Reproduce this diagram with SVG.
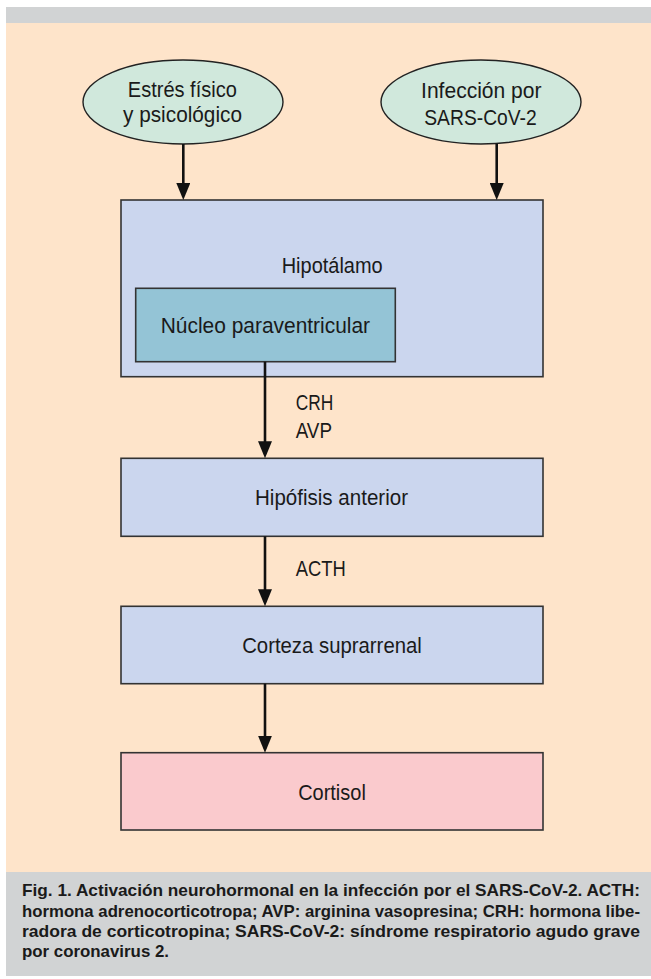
<svg xmlns="http://www.w3.org/2000/svg" width="651" height="979" viewBox="0 0 651 979">
<style>
.t{font-family:"Liberation Sans",Arial,sans-serif;font-size:22px;fill:#1a1a1a}
.c{font-family:"Liberation Sans",Arial,sans-serif;font-size:16.5px;font-weight:bold;fill:#1a1a1a}
.box{stroke:#333;stroke-width:1.6}
.ell{fill:#d0e8dc;stroke:#222;stroke-width:1.4}
.con{stroke:#111;stroke-width:2.6;fill:none}
</style>
<defs>
<marker id="ah" markerUnits="userSpaceOnUse" markerWidth="18" markerHeight="14" refX="13" refY="7" orient="auto" viewBox="0 0 18 14">
<path d="M0,0 L17,7 L0,14 z" fill="#111"/>
</marker>
</defs>
<rect x="0" y="0" width="651" height="979" fill="#ffffff"/>
<rect x="6" y="7" width="645" height="16" fill="#d1d3d4"/>
<rect x="6" y="23" width="645" height="849" fill="#fee4ca"/>
<rect x="6" y="872" width="645" height="104" fill="#d1d3d4"/>

<g id="estres">
<ellipse class="ell" cx="183" cy="102" rx="100" ry="42"/>
<text class="t" x="182.3" y="96.5" text-anchor="middle" textLength="109" lengthAdjust="spacingAndGlyphs">Estrés físico</text>
<text class="t" x="182.5" y="121.5" text-anchor="middle" textLength="119" lengthAdjust="spacingAndGlyphs">y psicológico</text>
</g>
<g id="infeccion">
<ellipse class="ell" cx="481" cy="102" rx="100" ry="42"/>
<text class="t" x="481.3" y="97.5" text-anchor="middle" textLength="120.5" lengthAdjust="spacingAndGlyphs">Infección por</text>
<text class="t" x="480.5" y="125" text-anchor="middle" textLength="112.5" lengthAdjust="spacingAndGlyphs">SARS-CoV-2</text>
</g>
<g id="hipotalamo">
<rect class="box" x="121" y="200" width="422" height="176.7" fill="#cbd6ee"/>
<text class="t" x="332.2" y="272.7" text-anchor="middle" textLength="101" lengthAdjust="spacingAndGlyphs">Hipotálamo</text>
</g>
<g id="nucleo">
<rect class="box" x="135.7" y="288.3" width="259.6" height="73.4" fill="#94c4d6"/>
<text class="t" x="265.4" y="332.7" text-anchor="middle" textLength="209.3" lengthAdjust="spacingAndGlyphs">Núcleo paraventricular</text>
</g>
<g id="hipofisis">
<rect class="box" x="121" y="458.3" width="422" height="78" fill="#cbd6ee"/>
<text class="t" x="331.5" y="505" text-anchor="middle" textLength="153" lengthAdjust="spacingAndGlyphs">Hipófisis anterior</text>
</g>
<g id="corteza">
<rect class="box" x="121" y="606.3" width="422" height="77.4" fill="#cbd6ee"/>
<text class="t" x="332" y="652.7" text-anchor="middle" textLength="179.7" lengthAdjust="spacingAndGlyphs">Corteza suprarrenal</text>
</g>
<g id="cortisol">
<rect class="box" x="121" y="752.7" width="422" height="77.3" fill="#facacd"/>
<text class="t" x="332" y="800" text-anchor="middle" textLength="67.7" lengthAdjust="spacingAndGlyphs">Cortisol</text>
</g>

<g id="connectors">
<line class="con" x1="183.3" y1="144" x2="183.3" y2="196" marker-end="url(#ah)"/>
<line class="con" x1="496.7" y1="143.5" x2="496.7" y2="196" marker-end="url(#ah)"/>
<line class="con" x1="265" y1="361.7" x2="265" y2="454.3" marker-end="url(#ah)"/>
<line class="con" x1="265" y1="536.3" x2="265" y2="602.3" marker-end="url(#ah)"/>
<line class="con" x1="265" y1="683.7" x2="265" y2="748.7" marker-end="url(#ah)"/>
<text class="t" x="295.7" y="410" textLength="37.6" lengthAdjust="spacingAndGlyphs">CRH</text>
<text class="t" x="295.7" y="438" textLength="36.3" lengthAdjust="spacingAndGlyphs">AVP</text>
<text class="t" x="295.7" y="575.7" textLength="50" lengthAdjust="spacingAndGlyphs">ACTH</text>
</g>

<g id="caption">
<text class="c" x="22" y="896" textLength="618" lengthAdjust="spacingAndGlyphs">Fig. 1. Activación neurohormonal en la infección por el SARS-CoV-2. ACTH:</text>
<text class="c" x="22" y="916.7" textLength="618" lengthAdjust="spacingAndGlyphs">hormona adrenocorticotropa; AVP: arginina vasopresina; CRH: hormona libe-</text>
<text class="c" x="22" y="936.7" textLength="618" lengthAdjust="spacingAndGlyphs">radora de corticotropina; SARS-CoV-2: síndrome respiratorio agudo grave</text>
<text class="c" x="22" y="956.7" textLength="147" lengthAdjust="spacingAndGlyphs">por coronavirus 2.</text>
</g>
</svg>
